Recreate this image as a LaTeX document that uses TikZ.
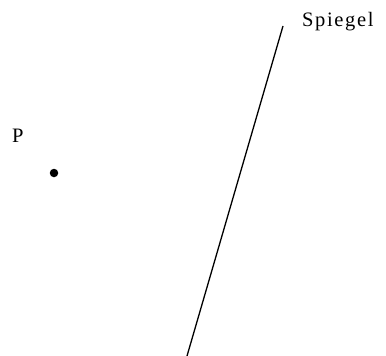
\documentclass[tikz,border=0pt]{standalone}
\usepackage{fontspec}
\newfontfamily\lblfont{Liberation Serif}[LetterSpace=8]
\usepackage{tikz}
\usetikzlibrary{positioning}

\tikzset{
  lbl/.style={inner sep=0pt, font=\lblfont\fontsize{20.5}{20.5}\selectfont},
  punkt/.style={circle, fill=black, inner sep=0pt, minimum size=8.5pt}
}

\begin{document}
\begin{tikzpicture}[x=1pt,y=-1pt]
  \useasboundingbox (0,0) rectangle (386,356);
  % mirror line
  \coordinate (oben) at (283,26);
  \coordinate (unten) at (187,356);
  \draw[line width=1.3pt] (oben) -- (unten);
  \node[lbl, anchor=base west] (spiegel) at (302,27) {Spiegel};
  % point
  \node[punkt] (p) at (54,173) {};
  \node[lbl, anchor=base west] (plbl) at (12,142) {P};
\end{tikzpicture}
\end{document}
